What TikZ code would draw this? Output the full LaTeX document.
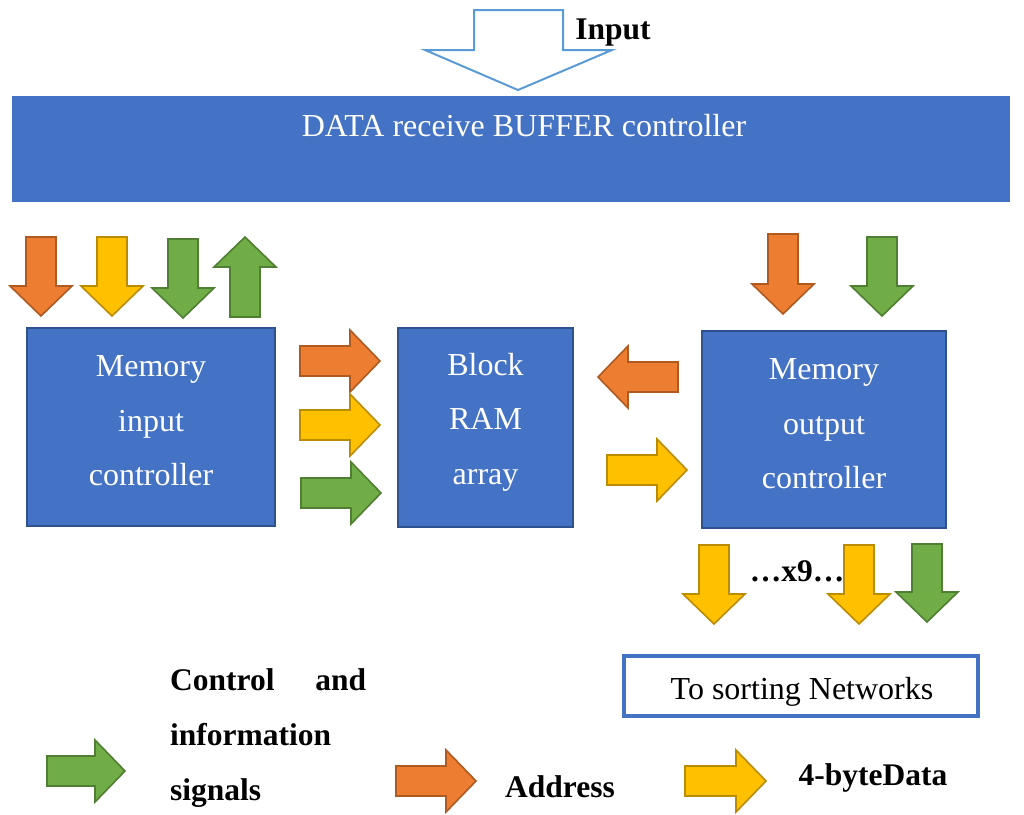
\documentclass[tikz,border=0pt]{standalone}
\usepackage{fontspec}
\setmainfont{Liberation Serif}
\usetikzlibrary{calc}

\definecolor{boxblue}{HTML}{4472C4}
\definecolor{boxedge}{HTML}{2F528F}
\definecolor{inblue}{HTML}{5B9BD5}
\definecolor{aorange}{HTML}{ED7D31}
\definecolor{aorangeedge}{HTML}{AE5A21}
\definecolor{ayellow}{HTML}{FFC000}
\definecolor{ayellowedge}{HTML}{BC8C00}
\definecolor{agreen}{HTML}{70AD47}
\definecolor{agreenedge}{HTML}{507E32}

\tikzset{
  % block arrow along +x: tail at origin, tip at (#1,0)
  pics/blockarrow/.style={code={
    \path[pic actions] (0,-15) -- ({#1-30},-15) -- ({#1-30},-31) -- (#1,0)
      -- ({#1-30},31) -- ({#1-30},15) -- (0,15) -- cycle;}},
  addr/.style={fill=aorange, draw=aorangeedge, line width=1.6pt},
  data/.style={fill=ayellow, draw=ayellowedge, line width=1.6pt},
  ctrl/.style={fill=agreen, draw=agreenedge, line width=1.6pt},
  unit/.style={rectangle, fill=boxblue, draw=boxedge, line width=1.5pt, inner sep=0pt},
  unittext/.style={text=white, align=center, inner sep=0pt, font=\fontsize{32}{54.5}\selectfont},
  plain/.style={inner sep=0pt, font=\fontsize{32}{37}\selectfont},
  bold/.style={inner sep=0pt, font=\fontsize{31.5}{55}\selectfont\bfseries},
}

\begin{document}
\begin{tikzpicture}[x=1pt, y=-1pt]
  \useasboundingbox (0,0) rectangle (1024,814);

  % input arrow
  \draw[fill=white, draw=inblue, line width=2pt]
    (474,10) -- (563,10) -- (563,50) -- (612,50) -- (518,90) -- (425,50) -- (474,50) -- cycle;
  \node[bold] (inlabel) at (613,33) {Input};

  % receive buffer controller
  \node[rectangle, fill=boxblue, inner sep=0pt, minimum width=998pt, minimum height=106pt] (buf) at (511,149) {};
  \node[plain, text=white] (buftext) at (524,126) {DATA receive BUFFER controller};

  % functional blocks
  \node[unit, minimum width=248pt, minimum height=198pt] (mic) at (151,427) {};
  \node[unittext] (mictext) at ($(mic.center)+(0,-6)$) {Memory\\input\\controller};

  \node[unit, minimum width=175pt, minimum height=199pt] (bram) at (485.5,427.5) {};
  \node[unittext] (bramtext) at ($(bram.center)+(0,-5.5)$) {Block\\RAM\\array};

  \node[unit, minimum width=244pt, minimum height=197pt] (moc) at (824,429.5) {};
  \node[unittext] (moctext) at ($(moc.center)+(0,-5.5)$) {Memory\\output\\controller};

  % signals between buffer and input controller
  \pic[addr, rotate=-90] at (41,237) {blockarrow=79};
  \pic[data, rotate=-90] at (112,237) {blockarrow=79};
  \pic[ctrl, rotate=-90] at (183,239) {blockarrow=79};
  \pic[ctrl, rotate=90]  at (245,317) {blockarrow=80};

  % input controller to block RAM
  \pic[addr] at (300,361) {blockarrow=80};
  \pic[data] at (300,425) {blockarrow=80};
  \pic[ctrl] at (301,493) {blockarrow=80};

  % block RAM and output controller
  \pic[addr, rotate=180] at (678,377) {blockarrow=80};
  \pic[data] at (607,470) {blockarrow=80};

  % signals between buffer and output controller
  \pic[addr, rotate=-90] at (783,234) {blockarrow=80};
  \pic[ctrl, rotate=-90] at (882,237) {blockarrow=79};

  % outputs to the sorting networks
  \pic[data, rotate=-90] at (714,545) {blockarrow=79};
  \pic[data, rotate=-90] at (859,545) {blockarrow=79};
  \pic[ctrl, rotate=-90] at (927,544) {blockarrow=78};
  \node[bold] (times9) at (797,571) {…x9…};

  \node[draw=boxblue, fill=white, line width=4pt, inner sep=0pt,
        minimum width=354pt, minimum height=60pt] (sort) at (801,686) {};
  \node[plain] (sorttext) at (802,692) {To sorting Networks};

  % legend
  \pic[ctrl] at (47,771) {blockarrow=78};
  \node[bold, anchor=west, align=left] (lgctrl) at (170,738)
    {\makebox[196pt][s]{Control\hfill and}\\information\\signals};
  \pic[addr] at (396,781) {blockarrow=80};
  \node[bold] (lgaddr) at (560,787) {Address};
  \pic[data] at (685,781) {blockarrow=81};
  \node[bold] (lgdata) at (873,778) {4-byteData};
\end{tikzpicture}
\end{document}
